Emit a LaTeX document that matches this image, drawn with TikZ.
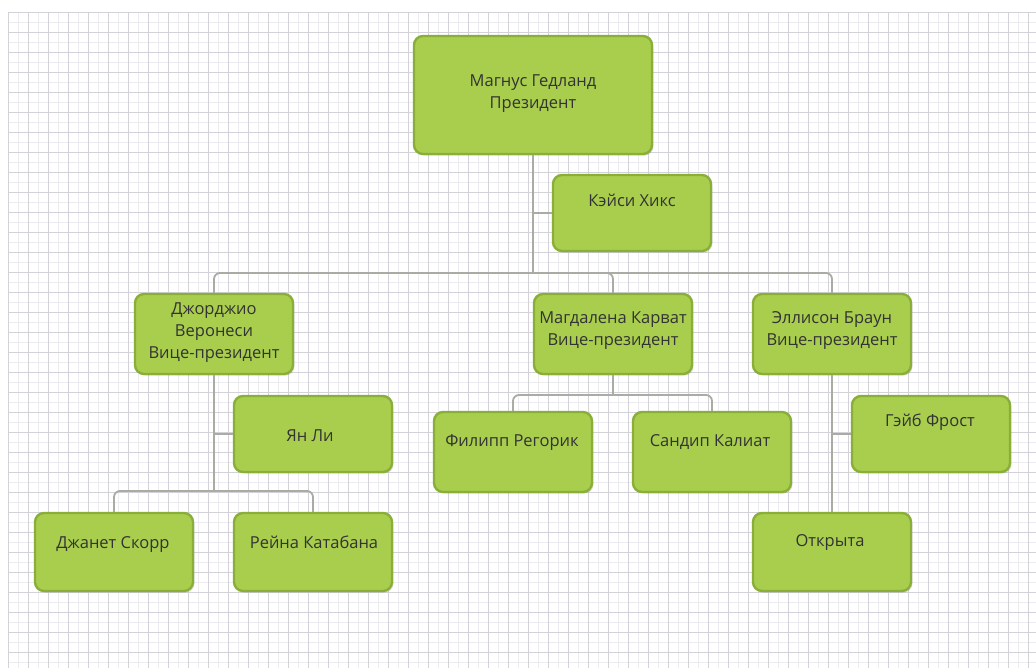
\documentclass[tikz,border=0pt]{standalone}
\usepackage{fontspec}
\setmainfont{Open Sans}
\usetikzlibrary{shadows,calc}
\definecolor{boxfill}{HTML}{A9CE4E}
\definecolor{boxedge}{HTML}{8AAF38}
\definecolor{conncol}{HTML}{ABABA4}
\definecolor{gridmaj}{HTML}{D2D2D8}
\definecolor{gridmin}{HTML}{ECECF0}
\tikzset{
  box/.style={draw=boxedge, line width=2.4pt, fill=boxfill, rounded corners=9pt,
    minimum width=#1, drop shadow={opacity=0.25, shadow xshift=1.5pt, shadow yshift=-1.5pt}},
  box/.default=158pt,
  txt/.style={font=\fontsize{16.5}{22}\selectfont, align=center, text=black!80},
  txtone/.style={txt, text height=0.75em, text depth=0.25em},
  conn/.style={draw=conncol, line width=1.8pt, rounded corners=6pt},
}
\begin{document}
\begin{tikzpicture}[x=1pt,y=-1pt]
\useasboundingbox (0,0) rectangle (1036,670);
\fill[white] (0,0) rectangle (1036,670);
% grid
\foreach \x in {18,38,...,1036} \draw[gridmin, line width=0.6pt] (\x,12) -- (\x,668);
\foreach \y in {22,42,...,668} \draw[gridmin, line width=0.6pt] (8,\y) -- (1036,\y);
\foreach \x in {8,28,...,1036} \draw[gridmaj, line width=1pt] (\x,12) -- (\x,668);
\foreach \y in {12,32,...,668} \draw[gridmaj, line width=1pt] (8,\y) -- (1036,\y);

% boxes
\node[box=238pt, minimum height=118pt] (pres) at (533,95) {};
\node[box, minimum height=76pt] (casey) at (632,213) {};
\node[box, minimum height=80pt] (vp1) at (214,334) {};
\node[box, minimum height=80pt] (vp2) at (613,334) {};
\node[box, minimum height=80pt] (vp3) at (832,334) {};
\node[box, minimum height=76pt] (yan) at (313,434) {};
\node[box, minimum height=80pt] (phil) at (513,452) {};
\node[box, minimum height=80pt] (sand) at (712,452) {};
\node[box, minimum height=76pt] (gabe) at (931,434) {};
\node[box, minimum height=78pt] (jan) at (114,552) {};
\node[box, minimum height=78pt] (reina) at (313,552) {};
\node[box, minimum height=78pt] (open) at (832,552) {};

% texts
\node[txt] (tpres) at (533,94) {Магнус Гедланд\\Президент};
\node[txtone] (tcasey) at (632,204) {Кэйси Хикс};
\node[txt] (tvp1) at (214,333) {Джорджио\\Веронеси\\Вице-президент};
\node[txt] (tvp2) at (613,331) {Магдалена Карват\\Вице-президент};
\node[txt] (tvp3) at (832,331) {Эллисон Браун\\Вице-президент};
\node[txtone] (tyan) at (310,439) {Ян Ли};
\node[txtone] (tphil) at (512,444) {Филипп Регорик};
\node[txtone] (tsand) at (710,444) {Сандип Калиат};
\node[txtone] (tgabe) at (930,424) {Гэйб Фрост};
\node[txtone] (tjan) at (113,546) {Джанет Скорр};
\node[txtone] (treina) at (314,546) {Рейна Катабана};
\node[txtone] (topen) at (830,544) {Открыта};

% connector junctions
\coordinate (j0) at (533,273);
\coordinate (j1) at (214,491);
\coordinate (j2) at (613,395);

\draw[conn] (pres.south) -- (j0);
\draw[conn, rounded corners=0pt] (pres.south |- casey.west) -- (casey.west);
\draw[conn] (vp1.north) |- (j0) -| (vp3.north);
\draw[conn] (j0) -| (vp2.north);
\draw[conn] (vp1.south) -- (j1);
\draw[conn, rounded corners=0pt] (vp1.south |- yan.west) -- (yan.west);
\draw[conn] (jan.north) |- (j1) -| (reina.north);
\draw[conn] (vp2.south) -- (j2);
\draw[conn] (phil.north) |- (j2) -| (sand.north);
\draw[conn] (vp3.south) -- (open.north);
\draw[conn, rounded corners=0pt] (vp3.south |- gabe.west) -- (gabe.west);
\end{tikzpicture}
\end{document}
